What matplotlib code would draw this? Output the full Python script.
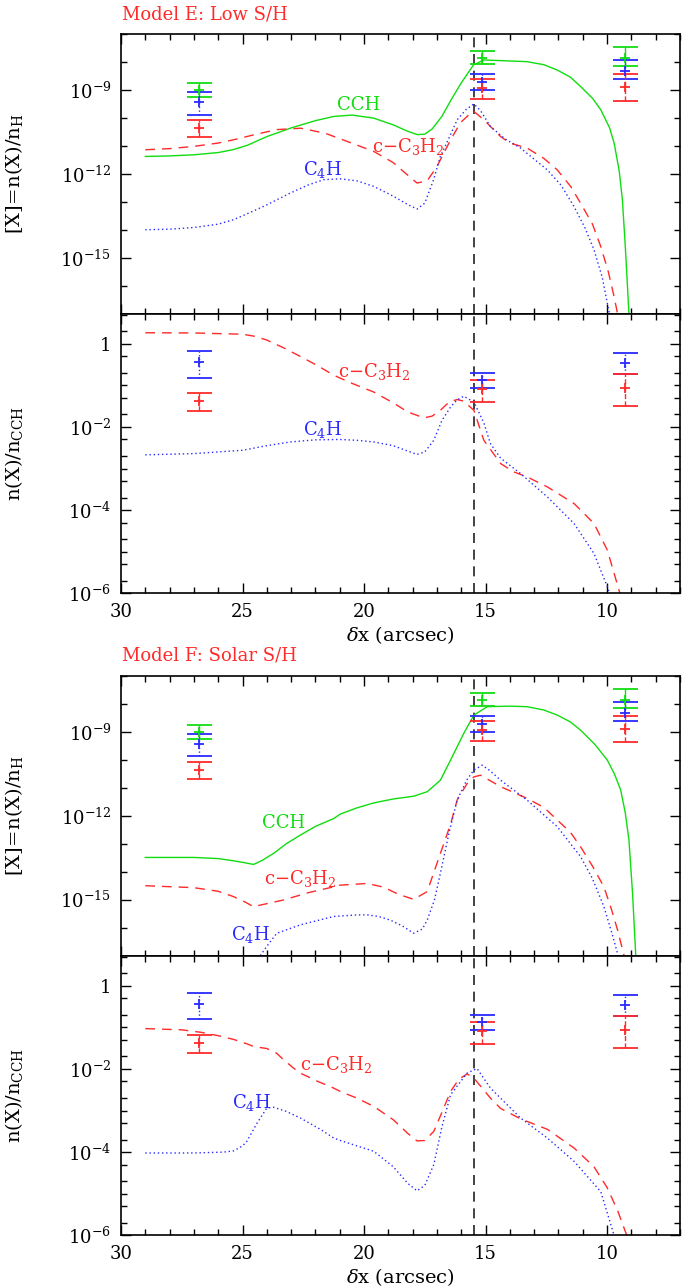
import numpy as np
import matplotlib
matplotlib.use('Agg')
import matplotlib.pyplot as plt
from matplotlib.ticker import FixedLocator, NullFormatter

plt.rcParams['font.family'] = 'DejaVu Serif'
plt.rcParams['mathtext.fontset'] = 'dejavuserif'

GREEN = '#10dd10'
RED = '#ff2a2a'
BLUE = '#2a2aff'

# ---- Model E: abundances (log10 n(X)/nH) ----
e_cch_x = [29.0, 28.0, 27.0, 26.0, 25.4, 24.8, 24.0, 23.0, 22.0, 21.25, 20.5, 19.6, 18.8, 18.2,
           17.8, 17.5, 17.2, 16.8, 16.4, 16.0, 15.5, 15.07, 14.5, 13.3, 12.6, 12.05, 11.5, 11.09,
           10.6, 10.26, 9.9, 9.71, 9.5, 9.37, 9.25, 9.1]
e_cch_y = [-11.38, -11.36, -11.32, -11.24, -11.14, -10.98, -10.67, -10.36, -10.10, -9.95, -9.90,
           -10.01, -10.25, -10.48, -10.60, -10.58, -10.40, -9.95, -9.33, -8.75, -8.11, -7.93,
           -7.95, -7.99, -8.10, -8.29, -8.55, -8.88, -9.30, -9.71, -10.35, -10.9, -11.9, -12.93,
           -14.6, -17.0]

e_c3h2_x = [29.0, 28.0, 27.0, 26.0, 25.4, 24.5, 23.6, 22.6, 21.6, 20.7, 19.6, 18.8, 18.2, 17.82,
            17.4, 17.0, 16.44, 16.03, 15.6, 15.48, 15.07, 14.38, 14.0, 13.29, 12.6, 12.05, 11.5,
            11.09, 10.6, 10.26, 9.95, 9.71, 9.57]
e_c3h2_y = [-11.14, -11.10, -11.02, -10.90, -10.79, -10.60, -10.42, -10.37, -10.55, -10.84, -11.20,
            -11.60, -12.05, -12.33, -12.25, -11.74, -10.79, -10.17, -9.82, -9.77, -10.07, -10.67,
            -10.90, -11.08, -11.45, -11.86, -12.45, -13.05, -13.80, -14.6, -15.5, -16.4, -17.0]

e_c4h_x = [29.0, 28.0, 27.0, 26.0, 25.37, 24.6, 24.0, 23.04, 22.3, 21.66, 20.98, 20.3, 19.6, 18.8,
           18.2, 17.82, 17.5, 17.13, 16.86, 16.44, 16.17, 15.8, 15.48, 15.2, 14.8, 14.2, 13.56,
           12.46, 11.9, 11.36, 10.9, 10.54, 10.2, 9.92, 9.85]
e_c4h_y = [-14.00, -13.98, -13.92, -13.80, -13.64, -13.35, -13.11, -12.69, -12.40, -12.21, -12.18,
           -12.25, -12.45, -12.80, -13.10, -13.26, -13.05, -12.19, -11.38, -10.60, -10.07, -9.70,
           -9.50, -9.75, -10.31, -10.75, -11.08, -11.86, -12.40, -13.17, -13.95, -14.71, -15.7,
           -16.93, -17.2]

# ---- Model E: ratios (log10 n(X)/nCCH) ----
e_rc3h2_x = [29.0, 27.0, 25.0, 24.5, 24.0, 23.3, 22.6, 21.9, 21.25, 20.5, 19.6, 18.8, 18.2, 17.54,
             17.2, 16.86, 16.5, 16.17, 15.9, 15.48, 15.07, 14.38, 13.84, 13.29, 12.46, 11.36,
             10.54, 9.99, 9.47]
e_rc3h2_y = [0.265, 0.26, 0.23, 0.18, 0.09, -0.10, -0.31, -0.53, -0.755, -0.95, -1.16, -1.42, -1.64,
             -1.78, -1.74, -1.60, -1.40, -1.34, -1.38, -1.60, -2.32, -2.88, -3.08, -3.20, -3.44,
             -3.84, -4.32, -4.96, -6.0]

e_rc4h_x = [29.0, 27.0, 25.0, 24.0, 23.04, 22.0, 21.0, 20.3, 19.6, 18.8, 18.2, 17.82, 17.5, 17.13,
            16.8, 16.44, 16.17, 15.9, 15.48, 15.07, 14.8, 14.38, 13.56, 12.46, 11.36, 10.54, 9.99,
            9.9]
e_rc4h_y = [-2.67, -2.64, -2.56, -2.45, -2.36, -2.31, -2.30, -2.32, -2.36, -2.45, -2.58, -2.66,
            -2.60, -2.32, -1.85, -1.52, -1.35, -1.26, -1.40, -1.90, -2.40, -2.75, -3.12, -3.68,
            -4.32, -5.04, -5.84, -6.0]

# ---- Model F: abundances ----
f_cch_x = [29.0, 27.0, 26.0, 25.37, 24.9, 24.55, 24.2, 23.73, 23.2, 22.62, 22.0, 21.25, 20.98,
           20.3, 19.6, 18.8, 17.96, 17.4, 16.86, 16.44, 15.9, 15.48, 14.93, 14.0, 13.29, 12.6,
           12.05, 11.5, 11.09, 10.5, 9.99, 9.7, 9.44, 9.25, 9.1, 8.95, 8.82]
f_cch_y = [-13.49, -13.49, -13.53, -13.61, -13.68, -13.74, -13.60, -13.35, -13.00, -12.69, -12.38,
           -12.10, -11.94, -11.72, -11.54, -11.40, -11.30, -11.14, -10.73, -10.01, -9.06, -8.40,
           -8.10, -8.08, -8.10, -8.22, -8.40, -8.65, -8.94, -9.45, -10.01, -10.5, -11.08, -11.9,
           -12.87, -14.8, -17.0]

f_c3h2_x = [29.0, 27.0, 26.0, 25.37, 24.9, 24.55, 24.2, 23.31, 22.3, 21.25, 20.98, 19.88, 19.2,
            18.6, 17.96, 17.4, 16.86, 16.44, 16.17, 15.76, 15.48, 15.21, 14.8, 14.38, 13.29, 12.6,
            12.05, 11.5, 11.09, 10.6, 10.13, 9.8, 9.57, 9.30]
f_c3h2_y = [-14.50, -14.57, -14.70, -14.89, -15.08, -15.25, -15.18, -15.01, -14.75, -14.54, -14.48,
            -14.42, -14.55, -14.80, -14.99, -14.71, -13.35, -12.30, -11.44, -10.85, -10.61,
            -10.55, -10.75, -10.96, -11.38, -11.70, -12.15, -12.60, -13.11, -13.80, -14.54,
            -15.40, -16.08, -17.0]

f_c4h_x = [24.27, 23.9, 23.59, 22.62, 21.25, 20.4, 19.88, 19.4, 18.92, 18.4, 17.96, 17.6, 17.4,
           17.1, 16.86, 16.5, 16.17, 15.76, 15.48, 15.14, 14.8, 14.38, 13.29, 12.05, 11.09, 10.6,
           10.13, 9.8, 9.57, 9.5]
f_c4h_y = [-17.0, -16.55, -16.2, -15.90, -15.60, -15.55, -15.54, -15.60, -15.73, -15.95, -16.20,
           -16.05, -15.73, -15.0, -14.06, -12.6, -11.44, -10.70, -10.37, -10.19, -10.40, -10.73,
           -11.44, -12.39, -13.46, -14.25, -15.25, -16.2, -16.92, -17.2]

# ---- Model F: ratios ----
f_rc3h2_x = [29.0, 27.5, 26.7, 26.0, 25.37, 24.8, 24.55, 24.0, 23.6, 23.31, 22.9, 22.62, 21.9,
             21.25, 20.98, 20.3, 19.6, 18.8, 18.2, 17.82, 17.5, 17.13, 16.8, 16.44, 16.1, 15.76,
             15.48, 14.8, 14.38, 13.56, 12.46, 11.36, 10.54, 10.0, 9.57, 9.19]
f_rc3h2_y = [-1.03, -1.06, -1.12, -1.20, -1.29, -1.40, -1.46, -1.51, -1.62, -1.78, -1.98, -2.10,
             -2.30, -2.46, -2.54, -2.70, -2.90, -3.22, -3.55, -3.73, -3.72, -3.50, -3.05, -2.54,
             -2.25, -2.12, -2.22, -2.70, -2.95, -3.20, -3.45, -3.90, -4.35, -4.85, -5.40, -6.0]

f_rc4h_x = [29.0, 27.0, 25.8, 25.37, 25.0, 24.82, 24.4, 24.0, 23.73, 23.2, 22.62, 21.8, 21.25,
            20.98, 19.6, 18.8, 18.2, 17.82, 17.5, 17.13, 16.8, 16.44, 15.76, 15.35, 14.8, 13.56,
            12.46, 11.36, 10.26, 9.71]
f_rc4h_y = [-4.02, -4.02, -4.00, -3.97, -3.85, -3.74, -3.30, -2.94, -2.92, -3.02, -3.18, -3.45,
            -3.66, -3.72, -3.98, -4.35, -4.75, -4.93, -4.80, -4.30, -3.40, -2.62, -2.10, -1.99,
            -2.46, -3.18, -3.66, -4.22, -4.95, -6.0]

# ---- observations (same in both models): log10 [centre, low, high] ----
obs_x = [26.8, 15.14, 9.26]
obs_cch = [[-9.0, -9.24, -8.74], [-7.87, -8.08, -7.60], [-7.86, -8.14, -7.45]]
obs_c4h = [[-9.45, -9.88, -9.08], [-8.72, -9.0, -8.43], [-8.31, -8.61, -7.93]]
obs_c3h2 = [[-10.37, -10.67, -10.08], [-8.94, -9.33, -8.60], [-8.90, -9.38, -8.43]]
obs_rc4h = [[-0.434, -0.811, -0.169], [-0.872, -1.072, -0.696], [-0.456, -0.72, -0.224]]
obs_rc3h2 = [[-1.373, -1.606, -1.173], [-1.096, -1.40, -0.872], [-1.064, -1.496, -0.72]]

x_edge = 15.46  # ionization front


def obs(ax, data, color, ls):
    d = 10.0 ** np.array(data)
    c = d[:, 0]
    err = [c - d[:, 1], d[:, 2] - c]
    eb = ax.errorbar(obs_x, c, yerr=err, fmt='+', ms=7, mew=1.3, color=color,
                     ecolor=color, elinewidth=1.0, capsize=9, capthick=1.6, zorder=5)
    eb[2][0].set_linestyle(ls)


def style(ax, ratio):
    ax.set_xlim(30, 7)
    ax.set_yscale('log')
    ax.xaxis.set_major_locator(FixedLocator([30, 25, 20, 15, 10]))
    ax.xaxis.set_minor_locator(FixedLocator(range(7, 31)))
    if ratio:
        ax.set_ylim(1e-6, 5.3)
        ax.yaxis.set_major_locator(FixedLocator([1e-6, 1e-4, 1e-2, 1]))
        ax.set_yticklabels([r'$10^{-6}$', r'$10^{-4}$', r'$10^{-2}$', '1'])
        mn = [k * 10.0 ** d for d in range(-6, 1) for k in (1, 2, 5)]
        ax.yaxis.set_minor_locator(FixedLocator(mn))
        ax.set_ylabel(r'$\mathrm{n(X)/n_{CCH}}$', fontsize=14)
    else:
        ax.set_ylim(1e-17, 1e-7)
        ax.yaxis.set_major_locator(FixedLocator([1e-15, 1e-12, 1e-9]))
        ax.set_yticklabels([r'$10^{-15}$', r'$10^{-12}$', r'$10^{-9}$'])
        ax.yaxis.set_minor_locator(FixedLocator([10.0 ** d for d in range(-17, -6)]))
        ax.set_ylabel(r'$[\mathrm{X}]\!=\!\mathrm{n(X)/n_H}$', fontsize=14)
    ax.yaxis.set_minor_formatter(NullFormatter())
    ax.yaxis.set_label_coords(-0.172, 0.5)
    ax.tick_params(which='both', direction='in', top=True, right=True, labelsize=13, width=1)
    ax.tick_params(which='major', length=7, pad=7)
    ax.tick_params(which='minor', length=4)
    for s in ax.spines.values():
        s.set_linewidth(1.2)
    ax.axvline(x_edge, color='#222222', lw=1.2, ls=(0, (6, 4)), zorder=1)


def group(fig, top, title, ab, rat, labels):
    h = 0.2175
    ax1 = fig.add_axes([0.1741, top - h, 0.8043, h])
    ax2 = fig.add_axes([0.1741, top - 2 * h, 0.8043, h])
    style(ax1, False)
    style(ax2, True)
    ax1.tick_params(labelbottom=False)
    ax2.set_xlabel(r'$\delta$x (arcsec)', fontsize=14, labelpad=2)

    (cx, cy), (rx, ry), (bx, by) = ab
    ax1.plot(cx, 10.0 ** np.array(cy), color=GREEN, lw=1.0)
    ax1.plot(rx, 10.0 ** np.array(ry), color=RED, lw=1.0, ls=(0, (7, 5)))
    ax1.plot(bx, 10.0 ** np.array(by), color=BLUE, lw=1.0, ls=(0, (1, 2)))
    obs(ax1, obs_cch, GREEN, '-')
    obs(ax1, obs_c4h, BLUE, ':')
    obs(ax1, obs_c3h2, RED, '--')

    (rx, ry), (bx, by) = rat
    ax2.plot(rx, 10.0 ** np.array(ry), color=RED, lw=1.0, ls=(0, (7, 5)))
    ax2.plot(bx, 10.0 ** np.array(by), color=BLUE, lw=1.0, ls=(0, (1, 2)))
    obs(ax2, obs_rc4h, BLUE, ':')
    obs(ax2, obs_rc3h2, RED, '--')

    for k, (x, y, txt, col) in enumerate(labels):
        ax = ax1 if k < 3 else ax2
        ax.text(x, 10.0 ** y, txt, color=col, fontsize=13, ha='center', va='center')

    fig.text(0.1755, top + 0.0155, title, color=RED, fontsize=13, ha='left', va='center')


fig = plt.figure(figsize=(6.95, 12.86), dpi=100)

group(fig, 0.9736, 'Model E: Low S/H',
      [(e_cch_x, e_cch_y), (e_c3h2_x, e_c3h2_y), (e_c4h_x, e_c4h_y)],
      [(e_rc3h2_x, e_rc3h2_y), (e_rc4h_x, e_rc4h_y)],
      [(20.24, -9.54, 'CCH', GREEN), (18.2, -11.02, r'c$-$C$_3$H$_2$', RED),
       (21.7, -11.86, r'C$_4$H', BLUE),
       (19.6, -0.67, r'c$-$C$_3$H$_2$', RED), (21.72, -2.07, r'C$_4$H', BLUE)])

group(fig, 0.4744, 'Model F: Solar S/H',
      [(f_cch_x, f_cch_y), (f_c3h2_x, f_c3h2_y), (f_c4h_x, f_c4h_y)],
      [(f_rc3h2_x, f_rc3h2_y), (f_rc4h_x, f_rc4h_y)],
      [(23.3, -12.27, 'CCH', GREEN), (22.62, -14.24, r'c$-$C$_3$H$_2$', RED),
       (24.68, -16.26, r'C$_4$H', BLUE),
       (21.16, -1.885, r'c$-$C$_3$H$_2$', RED), (24.64, -2.81, r'C$_4$H', BLUE)])

fig.savefig('out.png', dpi=100)
